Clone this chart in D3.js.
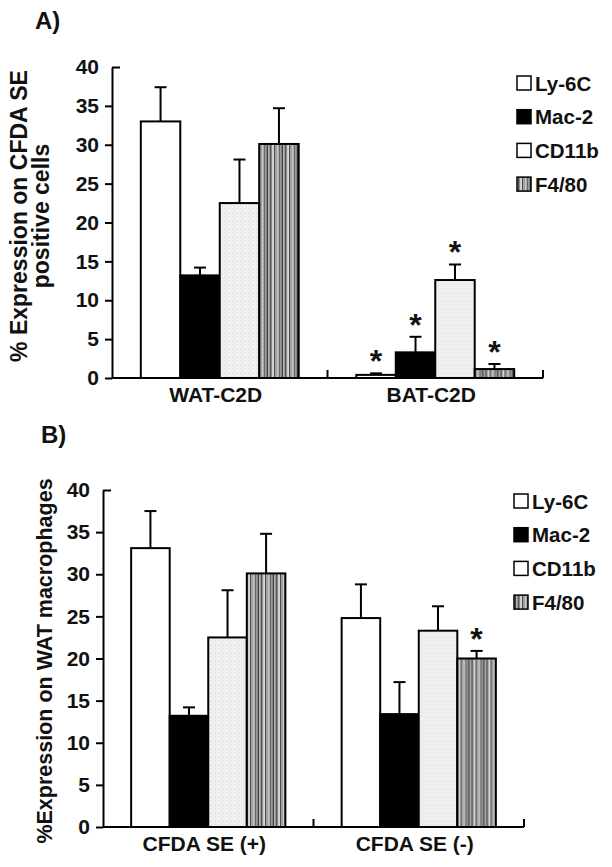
<!DOCTYPE html>
<html>
<head>
<meta charset="utf-8">
<script src="https://cdn.jsdelivr.net/npm/d3@7"></script>
<style>
  html, body { margin: 0; padding: 0; background: #fff; }
  svg { display: block; }
  text { font-family: "Liberation Sans", Arial, Helvetica, sans-serif; font-weight: bold; fill: #111; }
</style>
</head>
<body>
<svg id="chart" width="612" height="867"></svg>
<script>
// ---------- DATA ----------
const series = ["Ly-6C", "Mac-2", "CD11b", "F4/80"];
const yTicks = [0, 5, 10, 15, 20, 25, 30, 35, 40];

const groupsA = ["WAT-C2D", "BAT-C2D"];
const meansA = [
  [33.0, 13.2, 22.5, 30.1],
  [0.4, 3.3, 12.6, 1.15]
];
const errTopA = [
  [37.4, 14.2, 28.1, 34.7],
  [0.6, 5.3, 14.6, 1.8]
];
const starsA = [
  [false, false, false, false],
  [true, true, true, true]
];

const groupsB = ["CFDA SE (+)", "CFDA SE (-)"];
const meansB = [
  [33.1, 13.2, 22.5, 30.1],
  [24.8, 13.4, 23.3, 20.0]
];
const errTopB = [
  [37.5, 14.2, 28.1, 34.8],
  [28.8, 17.2, 26.2, 20.9]
];
const starsB = [
  [false, false, false, false],
  [false, false, false, true]
];

// ---------- DRAW ----------
const svg = d3.select("#chart");
const defs = svg.append("defs");

// dotted light pattern for CD11b
const pDot = defs.append("pattern").attr("id", "dots").attr("patternUnits", "userSpaceOnUse")
  .attr("width", 4).attr("height", 4);
pDot.append("rect").attr("width", 4).attr("height", 4).attr("fill", "#f1f1f1");
pDot.append("rect").attr("x", 0).attr("y", 0).attr("width", 1).attr("height", 1).attr("fill", "#d4d4d4");
pDot.append("rect").attr("x", 2).attr("y", 2).attr("width", 1).attr("height", 1).attr("fill", "#dcdcdc");

// vertical stripes for F4/80
const stripeCols = ["#c8c8c8", "#6a6a6a", "#9a9a9a", "#3e3e3e", "#b4b4b4", "#555", "#888", "#d8d8d8", "#4a4a4a", "#a0a0a0"];
const pStr = defs.append("pattern").attr("id", "stripes").attr("patternUnits", "userSpaceOnUse")
  .attr("width", stripeCols.length * 1.5).attr("height", 4);
stripeCols.forEach((c, i) => pStr.append("rect").attr("x", i * 1.5).attr("y", 0)
  .attr("width", 1.5).attr("height", 4).attr("fill", c));

const fills = ["#ffffff", "#000000", "url(#dots)", "url(#stripes)"];
const legendFills = ["#ffffff", "#000000", "#ffffff", "url(#stripes)"];

function panel(cfg) {
  const g = svg.append("g");
  const y = d3.scaleLinear().domain([0, 40]).range([cfg.y0, cfg.y1]);
  const x = d3.scaleBand().domain(cfg.groups).range([cfg.x0, cfg.x1]).padding(0);
  const xs = d3.scaleBand().domain(series).range([0, x.bandwidth()]).paddingInner(0).paddingOuter(0.73);

  // bars
  cfg.groups.forEach((grp, gi) => {
    const gg = g.append("g").attr("transform", `translate(${x(grp)},0)`);
    series.forEach((s, si) => {
      const v = cfg.means[gi][si], e = cfg.errs[gi][si];
      const bx = xs(s), bw = xs.bandwidth(), cx = bx + bw / 2;
      // error bar
      gg.append("line").attr("x1", cx).attr("x2", cx).attr("y1", y(v)).attr("y2", y(e))
        .attr("stroke", "#000").attr("stroke-width", 2);
      gg.append("line").attr("x1", cx - 6).attr("x2", cx + 6).attr("y1", y(e)).attr("y2", y(e))
        .attr("stroke", "#000").attr("stroke-width", 2);
      gg.append("rect").attr("x", bx).attr("y", y(v)).attr("width", bw).attr("height", y(0) - y(v))
        .attr("fill", fills[si]).attr("stroke", "#000").attr("stroke-width", 2);
      if (cfg.stars[gi][si]) {
        gg.append("text").attr("x", cx).attr("y", y(e) - 1).attr("text-anchor", "middle")
          .attr("font-size", 32).text("*");
      }
    });
  });

  // y axis
  const ax = g.append("g").attr("transform", `translate(${cfg.x0},0)`)
    .call(d3.axisLeft(y).tickValues(yTicks).tickSize(7).tickSizeOuter(0).tickPadding(6));
  ax.select(".domain").attr("stroke", "#000").attr("stroke-width", 2);
  ax.selectAll(".tick line").attr("stroke", "#000").attr("stroke-width", 2);
  ax.selectAll(".tick").filter(d => d === 40).select("line").attr("x2", 8);
  ax.selectAll(".tick text").attr("font-size", 21).attr("font-family", "Liberation Sans, Arial, sans-serif")
    .attr("font-weight", "bold").attr("fill", "#111").attr("x", -13);

  // x axis line
  g.append("line").attr("x1", cfg.x0).attr("x2", cfg.x1).attr("y1", y(0)).attr("y2", y(0))
    .attr("stroke", "#000").attr("stroke-width", 2);
  cfg.groups.forEach(grp => {
    const tx = x(grp) + x.bandwidth();
    g.append("line").attr("x1", tx).attr("x2", tx).attr("y1", y(0)).attr("y2", y(0) - 8)
      .attr("stroke", "#000").attr("stroke-width", 2);
    g.append("text").attr("x", x(grp) + x.bandwidth() / 2 - 4).attr("y", cfg.xLabelY)
      .attr("text-anchor", "middle").attr("font-size", 21).text(grp);
  });

  // y title
  cfg.titles.forEach(t => {
    g.append("text").attr("transform", `translate(${t.x},${cfg.titleCY}) rotate(-90)`)
      .attr("text-anchor", "middle").attr("font-size", t.size).text(t.text);
  });

  // panel label
  g.append("text").attr("x", cfg.labX).attr("y", cfg.labY).attr("font-size", 24).text(cfg.label);

  // legend
  series.forEach((s, i) => {
    const ly = cfg.legY + i * 33.7;
    g.append("rect").attr("x", cfg.legX).attr("y", ly - 7).attr("width", 14).attr("height", 14)
      .attr("fill", legendFills[i]).attr("stroke", "#000").attr("stroke-width", 1.5);
    g.append("text").attr("x", cfg.legX + 18).attr("y", ly + 7.5).attr("font-size", 20.5).text(s);
  });
}

panel({
  groups: groupsA, means: meansA, errs: errTopA, stars: starsA,
  x0: 112, x1: 543, y0: 378, y1: 67, xLabelY: 402,
  titles: [{ x: 27, size: 23, text: "% Expression on CFDA SE" }, { x: 49, size: 23, text: "positive cells" }],
  titleCY: 216, label: "A)", labX: 35, labY: 29, legX: 517, legY: 83
});

panel({
  groups: groupsB, means: meansB, errs: errTopB, stars: starsB,
  x0: 103, x1: 524, y0: 827, y1: 490, xLabelY: 851,
  titles: [{ x: 52, size: 21.5, text: "%Expression on WAT macrophages" }],
  titleCY: 661, label: "B)", labX: 41, labY: 443, legX: 514, legY: 501
});
</script>
</body>
</html>
